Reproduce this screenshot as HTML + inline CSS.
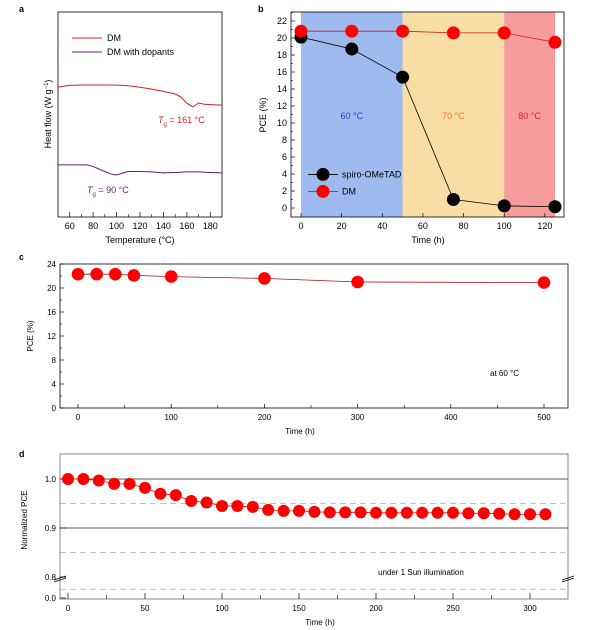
<!DOCTYPE html>
<html><head><meta charset="utf-8">
<style>
html,body{margin:0;padding:0;background:#fff;}
svg{display:block;font-family:"Liberation Sans",Arial,sans-serif;}
</style></head>
<body>
<svg id="fig" width="600" height="630" viewBox="0 0 600 630" xmlns="http://www.w3.org/2000/svg">
<g id="gA"></g>
<g id="gB"></g>
<g id="gC"></g>
<g id="gD"></g>
</svg>
<script>
// Panel a data
const aTemps = [50,60,70,80,90,100,110,120,130,140,150,155,160,165,170,175,180,190];
const aDM = [63.4,64.2,64.4,64.4,64.4,64.3,64.0,63.3,62.4,61.3,60.0,58.5,55.5,53.7,55.6,55.0,54.8,54.6];
const aDopT = [50,60,70,75,80,90,95,100,105,110,120,130,140,150,160,170,180,190];
const aDop = [25.4,25.4,25.4,25.4,24.6,22.2,21.0,20.5,21.4,22.2,22.2,22.0,21.5,21.7,22.0,22.0,21.7,21.5];
const aXTicks = [60,80,100,120,140,160,180];
// Panel b data
const bTimes = [0,25,50,75,100,125];
const bSpiro = [20.1,18.7,15.4,1.0,0.25,0.15];
const bDM = [20.8,20.8,20.8,20.6,20.6,19.5];
const bXTicks = [0,20,40,60,80,100,120];
const bYTicks = [0,2,4,6,8,10,12,14,16,18,20,22];
// Panel c data
const cTimes = [0,20,40,60,100,200,300,500];
const cPCE = [22.3,22.3,22.3,22.1,21.9,21.6,21.0,20.9];
const cXTicks = [0,100,200,300,400,500];
const cYTicks = [0,4,8,12,16,20,24];
// Panel d data
const dTimes = [0,10,20,30,40,50,60,70,80,90,100,110,120,130,140,150,160,170,180,190,200,210,220,230,240,250,260,270,280,290,300,310];
const dPCE = [1.0,1.0,0.997,0.99,0.99,0.982,0.97,0.967,0.955,0.952,0.945,0.945,0.943,0.937,0.935,0.935,0.933,0.932,0.932,0.932,0.931,0.931,0.931,0.931,0.931,0.931,0.93,0.93,0.929,0.928,0.928,0.928];
const dXTicks = [0,50,100,150,200,250,300];
const dYTicks = [0.8,0.9,1.0];

const NS="http://www.w3.org/2000/svg";
function el(parent,tag,attrs,text){const e=document.createElementNS(NS,tag);for(const k in attrs)e.setAttribute(k,attrs[k]);if(text!==undefined)e.textContent=text;parent.appendChild(e);return e;}
function lin(d0,d1,r0,r1){return v=>r0+(v-d0)*(r1-r0)/(d1-d0);}

// ---------- Panel a ----------
(function(){
const g=document.getElementById('gA');
const x=lin(50,190,58,222), y=lin(0,100,217,12);
let t=el(g,'text',{x:19,y:12,'font-size':9,'font-weight':'bold'},'a');

let f=el(g,'rect',{x:58,y:12,width:164,height:205,fill:'none',stroke:'#000','stroke-width':0.8});

aXTicks.forEach(v=>{el(g,'line',{x1:x(v),x2:x(v),y1:217,y2:212,stroke:'#000','stroke-width':0.7});
 const l=el(g,'text',{x:x(v),y:229,'font-size':9,'text-anchor':'middle'},v);
 });
[70,90,110,130,150,170].forEach(v=>el(g,'line',{x1:x(v),x2:x(v),y1:217,y2:214,stroke:'#000','stroke-width':0.6}));
let xl=el(g,'text',{x:140,y:243,'font-size':9,'text-anchor':'middle'},'Temperature (°C)');

let yl=el(g,'text',{x:0,y:0,'font-size':9,'text-anchor':'middle',transform:'translate(51,114) rotate(-90)'},'Heat flow (W g');
el(yl,'tspan',{'font-size':6,dy:-3},'−1');el(yl,'tspan',{dy:3},')');

let p1=el(g,'polyline',{points:aTemps.map((v,i)=>x(v)+','+y(aDM[i])).join(' '),fill:'none',stroke:'#d42020','stroke-width':1});

let p2=el(g,'polyline',{points:aDopT.map((v,i)=>x(v)+','+y(aDop[i])).join(' '),fill:'none',stroke:'#6a1a7a','stroke-width':1});

el(g,'line',{x1:72,x2:102,y1:38,y2:38,stroke:'#d42020','stroke-width':1});
let le1=el(g,'text',{x:107,y:41,'font-size':9},'DM');
el(g,'line',{x1:72,x2:102,y1:52,y2:52,stroke:'#6a1a7a','stroke-width':1});
let le2=el(g,'text',{x:107,y:55,'font-size':9},'DM with dopants');
let tg1=el(g,'text',{x:158,y:123,'font-size':9,fill:'#d42020'});
el(tg1,'tspan',{'font-style':'italic'},'T');el(tg1,'tspan',{'font-size':6,dy:3},'g');el(tg1,'tspan',{dy:-3},' = 161 °C');

let tg2=el(g,'text',{x:87,y:193,'font-size':9,fill:'#6a1a7a'});
el(tg2,'tspan',{'font-style':'italic'},'T');el(tg2,'tspan',{'font-size':6,dy:3},'g');el(tg2,'tspan',{dy:-3},' = 90 °C');

})();

// ---------- Panel b ----------
(function(){
const g=document.getElementById('gB');
const x=lin(0,125,301,555), y=lin(0,22,208,21);
let t=el(g,'text',{x:258,y:12,'font-size':9,'font-weight':'bold'},'b');

[[0,50,'#9fbaee','region-60c'],[50,100,'#f8dea4','region-70c'],[100,125,'#f69c9c','region-80c']].forEach(r=>{
 const e=el(g,'rect',{x:x(r[0]),y:12,width:x(r[1])-x(r[0]),height:205,fill:r[2]});
 });
let f=el(g,'rect',{x:291,y:12,width:273,height:205,fill:'none',stroke:'#000','stroke-width':0.8});

bXTicks.forEach(v=>{el(g,'line',{x1:x(v),x2:x(v),y1:217,y2:213,stroke:'#000','stroke-width':0.7});
 const l=el(g,'text',{x:x(v),y:229,'font-size':9,'text-anchor':'middle'},v);
 });
bYTicks.forEach(v=>{el(g,'line',{x1:291,x2:295,y1:y(v),y2:y(v),stroke:'#000','stroke-width':0.7});
 el(g,'line',{x1:291,x2:293,y1:y(v+1),y2:y(v+1),stroke:'#000','stroke-width':0.6});
 const l=el(g,'text',{x:287,y:y(v)+3,'font-size':9,'text-anchor':'end'},v);
 });
let xl=el(g,'text',{x:428,y:243,'font-size':9,'text-anchor':'middle'},'Time (h)');

let yl=el(g,'text',{x:0,y:0,'font-size':9,'text-anchor':'middle',transform:'translate(266,115) rotate(-90)'},'PCE (%)');

[['60 °C',25,'#2a3fd0'],['70 °C',75,'#f07a20'],['80 °C',112.5,'#e02020']].forEach(r=>{
 const e=el(g,'text',{x:x(r[1]),y:y(10.5),'font-size':9,'text-anchor':'middle',fill:r[2]},r[0]);
 });
function series(vals,col,name){
 const p=el(g,'polyline',{points:bTimes.map((v,i)=>x(v)+','+y(vals[i])).join(' '),fill:'none',stroke:col==='#000'?'#000':'#d01818','stroke-width':0.8});
 
 bTimes.forEach((v,i)=>{const c=el(g,'circle',{cx:x(v),cy:y(vals[i]),r:6.5,fill:col});
  });}
series(bSpiro,'#000','spiro');
series(bDM,'#f00','dm');
el(g,'line',{x1:308,x2:338,y1:y(3.95),y2:y(3.95),stroke:'#000','stroke-width':0.8});
el(g,'circle',{cx:323,cy:y(3.95),r:6.5,fill:'#000'});
let l1=el(g,'text',{x:342,y:y(3.95)+3,'font-size':9},'spiro-OMeTAD');
el(g,'line',{x1:308,x2:338,y1:y(1.95),y2:y(1.95),stroke:'#d01818','stroke-width':0.8});
el(g,'circle',{cx:323,cy:y(1.95),r:6.5,fill:'#f00'});
let l2=el(g,'text',{x:342,y:y(1.95)+3,'font-size':9},'DM');
})();

// ---------- Panel c ----------
(function(){
const g=document.getElementById('gC');
const x=lin(0,500,78,544), y=lin(0,24,408,264);
let t=el(g,'text',{x:19,y:260,'font-size':9,'font-weight':'bold'},'c');

let f=el(g,'rect',{x:60,y:264,width:508,height:144,fill:'none',stroke:'#000','stroke-width':0.8});

cXTicks.forEach((v,i)=>{el(g,'line',{x1:x(v),x2:x(v),y1:408,y2:404,stroke:'#000','stroke-width':0.7});
 if(i<cXTicks.length-1) el(g,'line',{x1:x(v+50),x2:x(v+50),y1:408,y2:405,stroke:'#000','stroke-width':0.6});
 const l=el(g,'text',{x:x(v),y:420,'font-size':8,'text-anchor':'middle'},v);
 });
cYTicks.forEach((v,i)=>{el(g,'line',{x1:60,x2:64,y1:y(v),y2:y(v),stroke:'#000','stroke-width':0.7});
 if(i<cYTicks.length-1) el(g,'line',{x1:60,x2:62,y1:y(v+2),y2:y(v+2),stroke:'#000','stroke-width':0.6});
 const l=el(g,'text',{x:56,y:y(v)+3,'font-size':8,'text-anchor':'end'},v);
 });
let xl=el(g,'text',{x:300,y:434,'font-size':8,'text-anchor':'middle'},'Time (h)');

let yl=el(g,'text',{x:0,y:0,'font-size':8,'text-anchor':'middle',transform:'translate(33,336) rotate(-90)'},'PCE (%)');

let p=el(g,'polyline',{points:cTimes.map((v,i)=>x(v)+','+y(cPCE[i])).join(' '),fill:'none',stroke:'#b01010','stroke-width':0.8});

cTimes.forEach((v,i)=>{const c=el(g,'circle',{cx:x(v),cy:y(cPCE[i]),r:6.3,fill:'#f00'});
 });
let a=el(g,'text',{x:490,y:376,'font-size':8},'at 60 °C');
})();

// ---------- Panel d ----------
(function(){
const g=document.getElementById('gD');
const x=lin(0,300,68,530);
const yl0=lin(0.8,1.0,577,479);
const y=v=> v<0.5 ? 598 : yl0(v);
let t=el(g,'text',{x:19,y:457,'font-size':9,'font-weight':'bold'},'d');

[0.95,0.85,0.775].forEach(v=>{const e=el(g,'line',{x1:60,x2:568,y1:y(v),y2:y(v),stroke:'#aaa','stroke-width':0.7,'stroke-dasharray':'6,4'});
 });
[0.9,1.0].forEach(v=>{const e=el(g,'line',{x1:60,x2:568,y1:y(v),y2:y(v),stroke:'#222','stroke-width':0.7});
 });
let f=el(g,'rect',{x:60,y:454,width:508,height:145,fill:'none',stroke:'#555','stroke-width':0.7});

dXTicks.forEach(v=>{el(g,'line',{x1:x(v),x2:x(v),y1:599,y2:593,stroke:'#000','stroke-width':0.7});
 if(x(v+25)<566) el(g,'line',{x1:x(v+25),x2:x(v+25),y1:599,y2:595,stroke:'#000','stroke-width':0.6});
 const l=el(g,'text',{x:x(v),y:611,'font-size':8,'text-anchor':'middle'},v);
 });
dYTicks.forEach(v=>{el(g,'line',{x1:60,x2:66,y1:y(v),y2:y(v),stroke:'#000','stroke-width':0.7});
 const l=el(g,'text',{x:56,y:y(v)+3,'font-size':8,'text-anchor':'end'},v.toFixed(1));
 });
el(g,'line',{x1:60,x2:66,y1:598,y2:598,stroke:'#000','stroke-width':0.7});
let z=el(g,'text',{x:56,y:601,'font-size':8,'text-anchor':'end'},'0.0');
[60,568].forEach(bx=>{const b=el(g,'path',{d:`M${bx-6},${y(0.8)+3} L${bx+6},${y(0.8)-1} M${bx-6},${y(0.8)+5} L${bx+6},${y(0.8)+1}`,stroke:'#000','stroke-width':0.7,fill:'none'});
 });
let xl=el(g,'text',{x:320,y:625,'font-size':8,'text-anchor':'middle'},'Time (h)');

let ylb=el(g,'text',{x:0,y:0,'font-size':8,'text-anchor':'middle',transform:'translate(27,520) rotate(-90)'},'Normalized PCE');

let p=el(g,'polyline',{points:dTimes.map((v,i)=>x(v)+','+y(dPCE[i])).join(' '),fill:'none',stroke:'#d01818','stroke-width':0.8});

dTimes.forEach((v,i)=>{const c=el(g,'circle',{cx:x(v),cy:y(dPCE[i]),r:6,fill:'#f00'});
 });
let a=el(g,'text',{x:378,y:575,'font-size':8},'under 1 Sun illumination');
})();
</script>
</body></html>
